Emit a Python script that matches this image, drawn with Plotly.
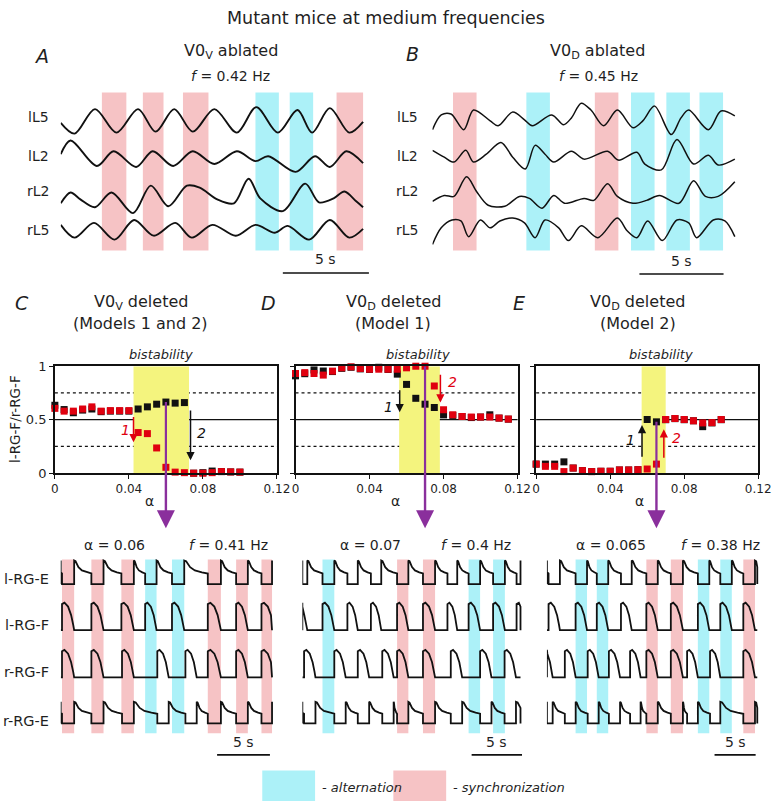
import plotly.graph_objects as go

W, H = 781, 809
FONT = "DejaVu Sans, Liberation Sans, Arial, sans-serif"
INK = "#1f1f1f"
PINK = "rgba(245,192,194,0.95)"
CYAN = "rgba(168,240,248,0.95)"
YELLOW = "#f4f47e"
RED = "#e0000f"
PURPLE = "#8a2f9c"

# ====================== DATA ======================
# ---- Panel A: V0V ablated (f = 0.42 Hz); time (s), amplitude (a.u.)
A_lL5_t = [0, 0.8, 1.99, 3.24, 4.49, 5.51, 6.59, 7.67, 8.92, 10.23, 11.36, 12.61, 13.75, 14.6, 15.63, 16.76, 17.56]
A_lL5_v = [-2, -13, 12, -12, 12, -11, 12, -11, 12, -12, 14, -12, 11, -12, 13, -12, -1]
A_lL2_t = [0, 0.57, 2.1, 3.07, 4.38, 5.34, 6.53, 7.67, 8.92, 10.23, 11.31, 12.05, 13.64, 14.77, 15.63, 16.59, 17.56]
A_lL2_v = [3, 17, -9, 6, -10, 6, -9, 6, -7, 6, -4, 1, -15, 1, -10, 6, -6]
A_rL2_t = [0, 0.57, 1.14, 1.99, 2.95, 4.2, 5.23, 6.25, 7.33, 8.07, 9.09, 10.06, 10.91, 11.59, 12.9, 14.2, 15.0, 15.85, 16.48, 17.16, 17.56]
A_rL2_v = [-7, 4, -3, -11, 4, -17, 11, -10, 11, 9, -3, -7, 18, -2, -15, 13, -6, -2, 5, -5, -11]
A_rL5_t = [0, 0.8, 1.93, 3.13, 4.26, 5.4, 6.65, 7.61, 8.81, 10.17, 11.31, 12.44, 13.18, 14.43, 15.63, 16.76, 17.56]
A_rL5_v = [5, -8, 7, -10, 10, -6, 7, -8, 5, -6, 5, -3, 4, -10, 10, -8, 1]
A_bars = [(2.39, 3.81, "sync"), (4.77, 5.97, "sync"), (7.10, 8.58, "sync"),
          (11.31, 12.67, "alt"), (13.30, 14.66, "alt"), (16.02, 17.56, "sync")]

# ---- Panel B: V0D ablated (f = 0.45 Hz)
B_lL5_t = [0, 0.52, 1.1, 1.86, 2.44, 3.43, 3.9, 4.77, 5.47, 5.93, 7.09, 7.79, 8.26, 8.84, 9.42, 10.17, 10.99, 11.92, 12.5, 13.2, 14.19, 14.77, 15.23, 16.4, 17.15, 17.97]
B_lL5_v = [-9, 6, 7, -9, 11, 0, -5, 9, 1, -5, 6, -4, 3, 18, 11, -5, 11, -7, 0, 15, -14, 3, 11, -9, 10, 5]
B_lL2_t = [0, 0.7, 1.28, 1.98, 2.44, 3.2, 4.07, 4.77, 5.52, 6.1, 6.69, 7.21, 8.26, 9.01, 10.41, 11.05, 12.15, 12.62, 13.6, 14.53, 15.52, 16.4, 16.98, 17.97]
B_lL2_v = [7, 0, -5, 7, -5, 3, 15, 0, -12, 12, 3, -5, 6, -2, 6, -3, 5, -7, -13, 18, -7, 2, -8, -2]
B_rL2_t = [0, 0.7, 1.28, 2.03, 2.62, 3.31, 4.3, 5.17, 5.76, 6.51, 7.21, 7.85, 9.01, 9.59, 10.41, 10.99, 11.92, 12.73, 13.49, 14.65, 15.52, 16.22, 16.98, 17.97]
B_rL2_v = [-5, 1, 0, 20, 5, -9, -10, 0, -2, -12, 1, -7, -2, -4, 13, 0, -7, -4, 1, -7, 16, 0, 0, 15]
B_rL5_t = [0, 0.52, 1.16, 1.69, 2.15, 2.85, 3.43, 4.01, 4.77, 5.47, 6.1, 6.69, 7.5, 8.08, 8.84, 9.83, 10.99, 11.57, 12.15, 12.79, 13.66, 14.53, 15.23, 15.7, 16.69, 17.38, 17.97]
B_rL5_v = [-15, 2, 10, 9, -7, 10, 2, 9, 12, 7, -8, 10, 2, -11, 4, -8, 12, -1, -8, 9, -11, 10, 7, -8, 10, 9, -7]
B_bars = [(1.22, 2.62, "sync"), (5.58, 6.98, "alt"), (9.65, 11.05, "sync"),
          (11.80, 13.20, "alt"), (13.90, 15.30, "alt"), (15.87, 17.27, "alt")]

# ---- Panels C, D, E: l-RG-F / r-RG-F ratio vs alpha
alpha_C = [i * 0.005 for i in range(21)]
C_red = [0.606, 0.58, 0.58, 0.60, 0.62, 0.58, 0.585, 0.585, 0.585, 0.38, 0.37, 0.236, 0.055,
         0.01, 0.005, 0.0, 0.0, 0.005, 0.015, 0.012, 0.01]
C_black = [0.635, 0.595, 0.565, 0.59, 0.60, 0.575, 0.58, 0.58, 0.58, 0.60, 0.62, 0.645, 0.665,
           0.655, 0.66, 0.0, 0.005, 0.02, 0.015, 0.012, 0.01]
alpha_D = [i * 0.005 for i in range(24)]
D_red = [0.932, 0.94, 0.932, 0.917, 0.954, 0.985, 0.994, 0.979, 0.972, 0.972, 0.972, 0.972, 0.985,
         1.0, 1.0, 0.815, 0.593, 0.546, 0.53, 0.525, 0.525, 0.525, 0.515, 0.506]
D_black = [0.91, 0.93, 0.965, 0.955, 0.95, 0.98, 0.99, 0.975, 0.97, 0.99, 0.97, 0.926, 0.83,
           0.70, 0.645, 0.614, 0.545, 0.54, 0.53, 0.52, 0.525, 0.546, 0.515, 0.505]
alpha_E = [i * 0.005 for i in range(21)]
E_red = [0.085, 0.064, 0.064, 0.015, 0.048, 0.024, 0.015, 0.018, 0.018, 0.03, 0.03, 0.033, 0.039,
         0.085, 0.502, 0.511, 0.502, 0.49, 0.47, 0.473, 0.502]
E_black = [0.085, 0.085, 0.085, 0.106, 0.048, 0.024, 0.015, 0.018, 0.018, 0.03, 0.03, 0.033, 0.502,
           0.48, 0.50, 0.51, 0.50, 0.49, 0.435, 0.47, 0.50]
bistab = {"C": (0.0425, 0.0725), "D": (0.056, 0.078), "E": (0.057, 0.070)}
selected = {"C": (0.06, 0.665), "D": (0.07, 1.0), "E": (0.065, 0.48)}

# ---- Bottom model traces: flexor burst (onset, offset) times in s
C_T = 20.0
C_lF = [(0.12, 1.27), (2.9, 4.05), (5.74, 6.92), (7.99, 9.07), (10.53, 11.69), (13.92, 15.16), (16.6, 17.71), (19.0, 20.2)]
C_rF = [(0.12, 1.27), (2.9, 4.05), (5.8, 6.92), (9.14, 10.22), (11.8, 12.87), (13.92, 15.16), (16.6, 17.71), (19.0, 20.2)]
C_bars = [(0.12, 1.27, "sync"), (2.9, 4.05, "sync"), (5.74, 6.92, "sync"), (7.99, 9.07, "alt"),
          (10.53, 11.69, "alt"), (13.92, 15.16, "sync"), (16.6, 17.71, "sync"), (19.0, 20.0, "sync")]
D_T = 21.65
D_lF = [(-0.7, 0.49), (2.0, 3.17), (4.47, 5.5), (6.8, 7.83), (9.4, 10.52), (11.97, 13.17), (14.4, 15.37), (16.5, 17.64), (18.93, 20.1), (21.26, 22.4)]
D_rF = [(0.17, 1.3), (3.17, 4.3), (5.5, 6.63), (7.93, 9.06), (9.4, 10.52), (11.97, 13.17), (14.73, 15.86), (17.64, 18.77), (20.07, 21.2)]
D_bars = [(2.0, 3.17, "alt"), (9.4, 10.52, "sync"), (11.97, 13.17, "sync"), (16.5, 17.64, "alt"), (18.93, 20.1, "alt")]
E_T = 25.6
E_lF = [(0.2, 1.58), (3.49, 4.88), (6.07, 7.46), (9.01, 10.32), (12.1, 13.49), (15.08, 16.55), (18.37, 19.76), (21.1, 22.5), (23.9, 25.32)]
E_rF = [(-0.6, 0.7), (2.18, 3.5), (4.96, 6.3), (7.54, 8.9), (10.12, 11.4), (12.1, 13.49), (15.08, 16.55), (17.06, 18.37), (19.85, 21.1), (23.9, 25.32)]
E_bars = [(3.49, 4.88, "alt"), (6.07, 7.46, "alt"), (12.1, 13.49, "sync"), (15.08, 16.55, "sync"),
          (18.37, 19.76, "alt"), (21.1, 22.5, "alt"), (23.9, 25.32, "sync")]

# ====================== HELPERS ======================
def px(x):
    return x / W


def py(y):
    return 1 - y / H


def ann(text, x, y, size=12, color=INK, xanchor="center", angle=0):
    return dict(text=text, x=px(x), y=py(y), xref="paper", yref="paper", showarrow=False,
                font=dict(family=FONT, size=size, color=color), xanchor=xanchor, yanchor="middle",
                textangle=angle)


def clamp_path(xs, ys, T):
    return [min(max(t, 0), T) for t in xs], ys


def flexor_path(bursts, T, base, amp):
    xs, ys = [0], [base]
    for on, off in bursts:
        d = off - on
        for t, f in [(on, 0), (on, 0.95), (on + 0.2 * d, 1.0), (on + 0.5 * d, 0.86),
                     (on + 0.75 * d, 0.55), (on + 0.92 * d, 0.2), (off, 0.04), (off, 0)]:
            xs.append(t)
            ys.append(base + amp * f)
    xs.append(T)
    ys.append(base)
    return clamp_path(xs, ys, T)


def extensor_path(bursts, T, low, amp):
    xs, ys = [], []
    highs = []
    prev = bursts[0][0] - 1.6
    for on, off in bursts:
        highs.append((prev, on))
        prev = off
    highs.append((prev, T + 1.6))
    for s, e in highs:
        L = e - s
        for t, f in [(s, 0), (s, 1.0), (s + 0.08 * L, 0.97), (s + 0.25 * L, 0.72),
                     (s + 0.45 * L, 0.58), (s + 0.75 * L, 0.5), (e, 0.45), (e, 0)]:
            xs.append(t)
            ys.append(low + amp * f)
    return clamp_path(xs, ys, T)


fig = go.Figure()
shapes = []
annotations = []
layout_axes = {}


def add_axes(n, xdom_px, ydom_px, xrange, yrange, visible=False):
    xk = "xaxis" if n == 1 else f"xaxis{n}"
    yk = "yaxis" if n == 1 else f"yaxis{n}"
    layout_axes[xk] = dict(domain=[px(xdom_px[0]), min(1.0, px(xdom_px[1]))], range=xrange, visible=visible,
                           anchor="y" if n == 1 else f"y{n}", fixedrange=True)
    layout_axes[yk] = dict(domain=[max(0.0, py(ydom_px[1])), min(1.0, py(ydom_px[0]))], range=yrange,
                           visible=visible, anchor="x" if n == 1 else f"x{n}", fixedrange=True)
    return ("x" if n == 1 else f"x{n}"), ("y" if n == 1 else f"y{n}")


# ====================== TOP PANELS (A, B) ======================
rows_AB = [-116, -153, -193, -227]
names_AB = ["lL5", "lL2", "rL2", "rL5"]
label_y = [112, 152, 187, 227]

for n, (x0, pxps, series, bars, sb, lab_x, lw) in enumerate([
        (58, 17.6, [(A_lL5_t, A_lL5_v), (A_lL2_t, A_lL2_v), (A_rL2_t, A_rL2_v), (A_rL5_t, A_rL5_v)],
         A_bars, (12.9, 17.9, -271, -257), 35, 1.9),
        (438, 17.2, [(B_lL5_t, B_lL5_v), (B_lL2_t, B_lL2_v), (B_rL2_t, B_rL2_v), (B_rL5_t, B_rL5_v)],
         B_bars, (12.3, 17.3, -272, -259), 412, 1.5)], start=1):
    wpx = 330
    xa, ya = add_axes(n, (x0, x0 + wpx), (80, 285), [0, wpx / pxps], [-285, -80])
    for s0, s1, kind in bars:
        shapes.append(dict(type="rect", xref=xa, yref=ya, x0=s0, x1=s1, y0=-248, y1=-87,
                           fillcolor=PINK if kind == "sync" else CYAN, line=dict(width=0), layer="below"))
    for (t, v), off in zip(series, rows_AB):
        fig.add_trace(go.Scatter(x=t, y=[off + a for a in v], mode="lines", xaxis=xa, yaxis=ya,
                                 line=dict(color="#111", width=lw, shape="spline", smoothing=0.9),
                                 hoverinfo="skip", showlegend=False))
    shapes.append(dict(type="line", xref=xa, yref=ya, x0=sb[0], x1=sb[1], y0=sb[2], y1=sb[2],
                       line=dict(color="#111", width=1.6)))
    annotations.append(dict(text="5 s", x=(sb[0] + sb[1]) / 2, y=sb[3], xref=xa, yref=ya, showarrow=False,
                            font=dict(family=FONT, size=14, color=INK)))
    for nm, ly in zip(names_AB, label_y):
        annotations.append(ann(nm, lab_x, ly, size=14))

annotations += [
    ann("Mutant mice at medium frequencies", 390, 11, size=17.5),
    ann("<i>A</i>", 38, 50, size=19),
    ann("V0<sub>V</sub> ablated", 232, 45, size=16),
    ann("<i>f</i> = 0.42 Hz", 232, 70, size=14),
    ann("<i>B</i>", 418, 48, size=19),
    ann("V0<sub>D</sub> ablated", 607, 45, size=16),
    ann("<i>f</i> = 0.45 Hz", 608, 70, size=14),
]

# ====================== MIDDLE PANELS (C, D, E) ======================
panels = [
    ("C", 3, 52, alpha_C, C_red, C_black, True),
    ("D", 4, 298, alpha_D, D_red, D_black, False),
    ("E", 5, 544, alpha_E, E_red, E_black, False),
]
for key, n, x0, al, red, blk, ylab in panels:
    xa, ya = add_axes(n, (x0, x0 + 227), (366, 475), [0, 0.12], [0, 1], visible=True)
    xk = f"xaxis{n}"
    yk = f"yaxis{n}"
    layout_axes[xk].update(tickvals=[0, 0.04, 0.08, 0.12], ticktext=["0", "0.04", "0.08", "0.12"],
                           ticks="outside", ticklen=4, tickwidth=1.2, tickcolor="#111",
                           showline=True, linecolor="#111", linewidth=1.5, mirror=True,
                           showgrid=False, zeroline=False,
                           tickfont=dict(family=FONT, size=12, color=INK))
    layout_axes[yk].update(tickvals=[0, 0.5, 1], ticktext=["0", "0.5", "1"], showticklabels=ylab,
                           ticks="outside", ticklen=4, tickwidth=1.2, tickcolor="#111",
                           showline=True, linecolor="#111", linewidth=1.5, mirror=True,
                           showgrid=False, zeroline=False,
                           tickfont=dict(family=FONT, size=13, color=INK))
    b0, b1 = bistab[key]
    shapes.append(dict(type="rect", xref=xa, yref=ya, x0=b0, x1=b1, y0=0, y1=1,
                       fillcolor=YELLOW, line=dict(width=0), layer="below"))
    for yv, dash in [(0.25, "dot"), (0.5, "solid"), (0.75, "dot")]:
        shapes.append(dict(type="line", xref=f"{xa} domain", yref=ya, x0=0, x1=1, y0=yv, y1=yv,
                           line=dict(color="#111", width=1.3, dash=dash), layer="below"))
    sa, sy = selected[key]
    shapes.append(dict(type="line", xref=xa, yref=ya, x0=sa, x1=sa, y0=sy, y1=0,
                       line=dict(color=PURPLE, width=2.2)))
    annotations.append(dict(text="", x=sa, y=py(531), xref=xa, yref="paper", ax=0, ay=-57,
                            axref="pixel", ayref="pixel", showarrow=True, arrowhead=2, arrowsize=1.5,
                            arrowwidth=2.4, arrowcolor=PURPLE, standoff=0, startstandoff=0))
    fig.add_trace(go.Scatter(x=al, y=blk, mode="markers", xaxis=xa, yaxis=ya, cliponaxis=False,
                             marker=dict(symbol="square", size=7, color="#111"),
                             hoverinfo="skip", showlegend=False))
    fig.add_trace(go.Scatter(x=al, y=red, mode="markers", xaxis=xa, yaxis=ya, cliponaxis=False,
                             marker=dict(symbol="square", size=7, color=RED),
                             hoverinfo="skip", showlegend=False))


def small_arrow(xa, ya, x, y0, y1, color, label, lx, ly):
    annotations.append(dict(text="", x=x, y=y1, xref=xa, yref=ya, ax=x, ay=y0, axref=xa, ayref=ya,
                            showarrow=True, arrowhead=2, arrowsize=1.1, arrowwidth=1.5,
                            arrowcolor=color, standoff=0, startstandoff=0))
    annotations.append(dict(text=f"<i>{label}</i>", x=lx, y=ly, xref=xa, yref=ya, showarrow=False,
                            font=dict(family=FONT, size=14, color=color)))


small_arrow("x3", "y3", 0.0425, 0.54, 0.29, RED, "1", 0.0380, 0.40)
small_arrow("x3", "y3", 0.0733, 0.60, 0.12, "#111", "2", 0.0790, 0.375)
small_arrow("x4", "y4", 0.0563, 0.79, 0.57, "#111", "1", 0.0500, 0.62)
small_arrow("x4", "y4", 0.0783, 0.935, 0.66, RED, "2", 0.0850, 0.855)
small_arrow("x5", "y5", 0.0572, 0.14, 0.45, "#111", "1", 0.0510, 0.31)
small_arrow("x5", "y5", 0.0690, 0.13, 0.41, RED, "2", 0.0760, 0.325)

annotations += [
    ann("<i>C</i>", 18, 302, size=19),
    ann("V0<sub>V</sub> deleted", 140, 301, size=16),
    ann("(Models 1 and 2)", 140, 322, size=16),
    ann("<i>bistability</i>", 160, 354, size=13),
    ann("<i>D</i>", 270, 302, size=19),
    ann("V0<sub>D</sub> deleted", 398, 301, size=16),
    ann("(Model 1)", 398, 322, size=16),
    ann("<i>bistability</i>", 423, 354, size=13),
    ann("<i>E</i>", 526, 302, size=19),
    ann("V0<sub>D</sub> deleted", 648, 301, size=16),
    ann("(Model 2)", 648, 322, size=16),
    ann("<i>bistability</i>", 672, 354, size=13),
    ann("l-RG-F/r-RG-F", 11, 420, size=13.5, angle=-90),
    ann("α", 149, 503, size=14),
    ann("α", 400, 503, size=14),
    ann("α", 650, 503, size=14),
]

# ====================== BOTTOM PANELS ======================
bottom = [
    (6, 58, 10.8, 225, C_T, C_lF, C_rF, C_bars, (14.8, 19.8), "α = 0.06", 113, "<i>f</i> = 0.41 Hz", 230),
    (7, 305, 10.3, 225, D_T, D_lF, D_rF, D_bars, (16.8, 21.8), "α = 0.07", 375, "<i>f</i> = 0.4 Hz", 483),
    (8, 555, 8.4, 225, E_T, E_lF, E_rF, E_bars, (20.4, 25.4), "α = 0.065", 620, "<i>f</i> = 0.38 Hz", 732),
]
for n, x0, pxps, wpx, T, lF, rF, bars, sb, atxt, ax_, ftxt, fx in bottom:
    xa, ya = add_axes(n, (x0, x0 + wpx), (545, 775), [0, wpx / pxps], [-775, -545])
    for s0, s1, kind in bars:
        shapes.append(dict(type="rect", xref=xa, yref=ya, x0=s0, x1=s1, y0=-740, y1=-563,
                           fillcolor=PINK if kind == "sync" else CYAN, line=dict(width=0), layer="below"))
    paths = [extensor_path(lF, T, -588, 24), flexor_path(lF, T, -635, 28),
             flexor_path(rF, T, -683, 28), extensor_path(rF, T, -730, 22)]
    for xs, ys in paths:
        fig.add_trace(go.Scatter(x=xs, y=ys, mode="lines", xaxis=xa, yaxis=ya,
                                 line=dict(color="#111", width=1.8), hoverinfo="skip", showlegend=False))
    shapes.append(dict(type="line", xref=xa, yref=ya, x0=sb[0], x1=sb[1], y0=-762, y1=-762,
                       line=dict(color="#111", width=1.6)))
    annotations.append(dict(text="5 s", x=(sb[0] + sb[1]) / 2, y=-749, xref=xa, yref=ya, showarrow=False,
                            font=dict(family=FONT, size=14, color=INK)))
    annotations.append(ann(atxt, ax_, 548, size=14))
    annotations.append(ann(ftxt, fx, 548, size=14))

for nm, ly in zip(["l-RG-E", "l-RG-F", "r-RG-F", "r-RG-E"], [583, 630, 678, 727]):
    annotations.append(ann(nm, 48, ly, size=14.5, xanchor="right"))

# legend
shapes.append(dict(type="rect", xref="paper", yref="paper", x0=px(264), x1=px(318), y0=py(809), y1=py(778),
                   fillcolor=CYAN, line=dict(width=0)))
shapes.append(dict(type="rect", xref="paper", yref="paper", x0=px(398), x1=px(452), y0=py(809), y1=py(778),
                   fillcolor=PINK, line=dict(width=0)))
annotations.append(ann("<i>- alternation</i>", 323, 795, size=13, xanchor="left"))
annotations.append(ann("<i>- synchronization</i>", 457, 795, size=13, xanchor="left"))

fig.update_layout(width=W, height=H, margin=dict(l=0, r=0, t=0, b=0), paper_bgcolor="white",
                  plot_bgcolor="rgba(0,0,0,0)", shapes=shapes, annotations=annotations,
                  showlegend=False, font=dict(family=FONT, color=INK), **layout_axes)
fig.write_html("out.html", config={"displayModeBar": False},
               post_script="document.body.style.margin='0px';document.body.style.overflow='hidden';")
